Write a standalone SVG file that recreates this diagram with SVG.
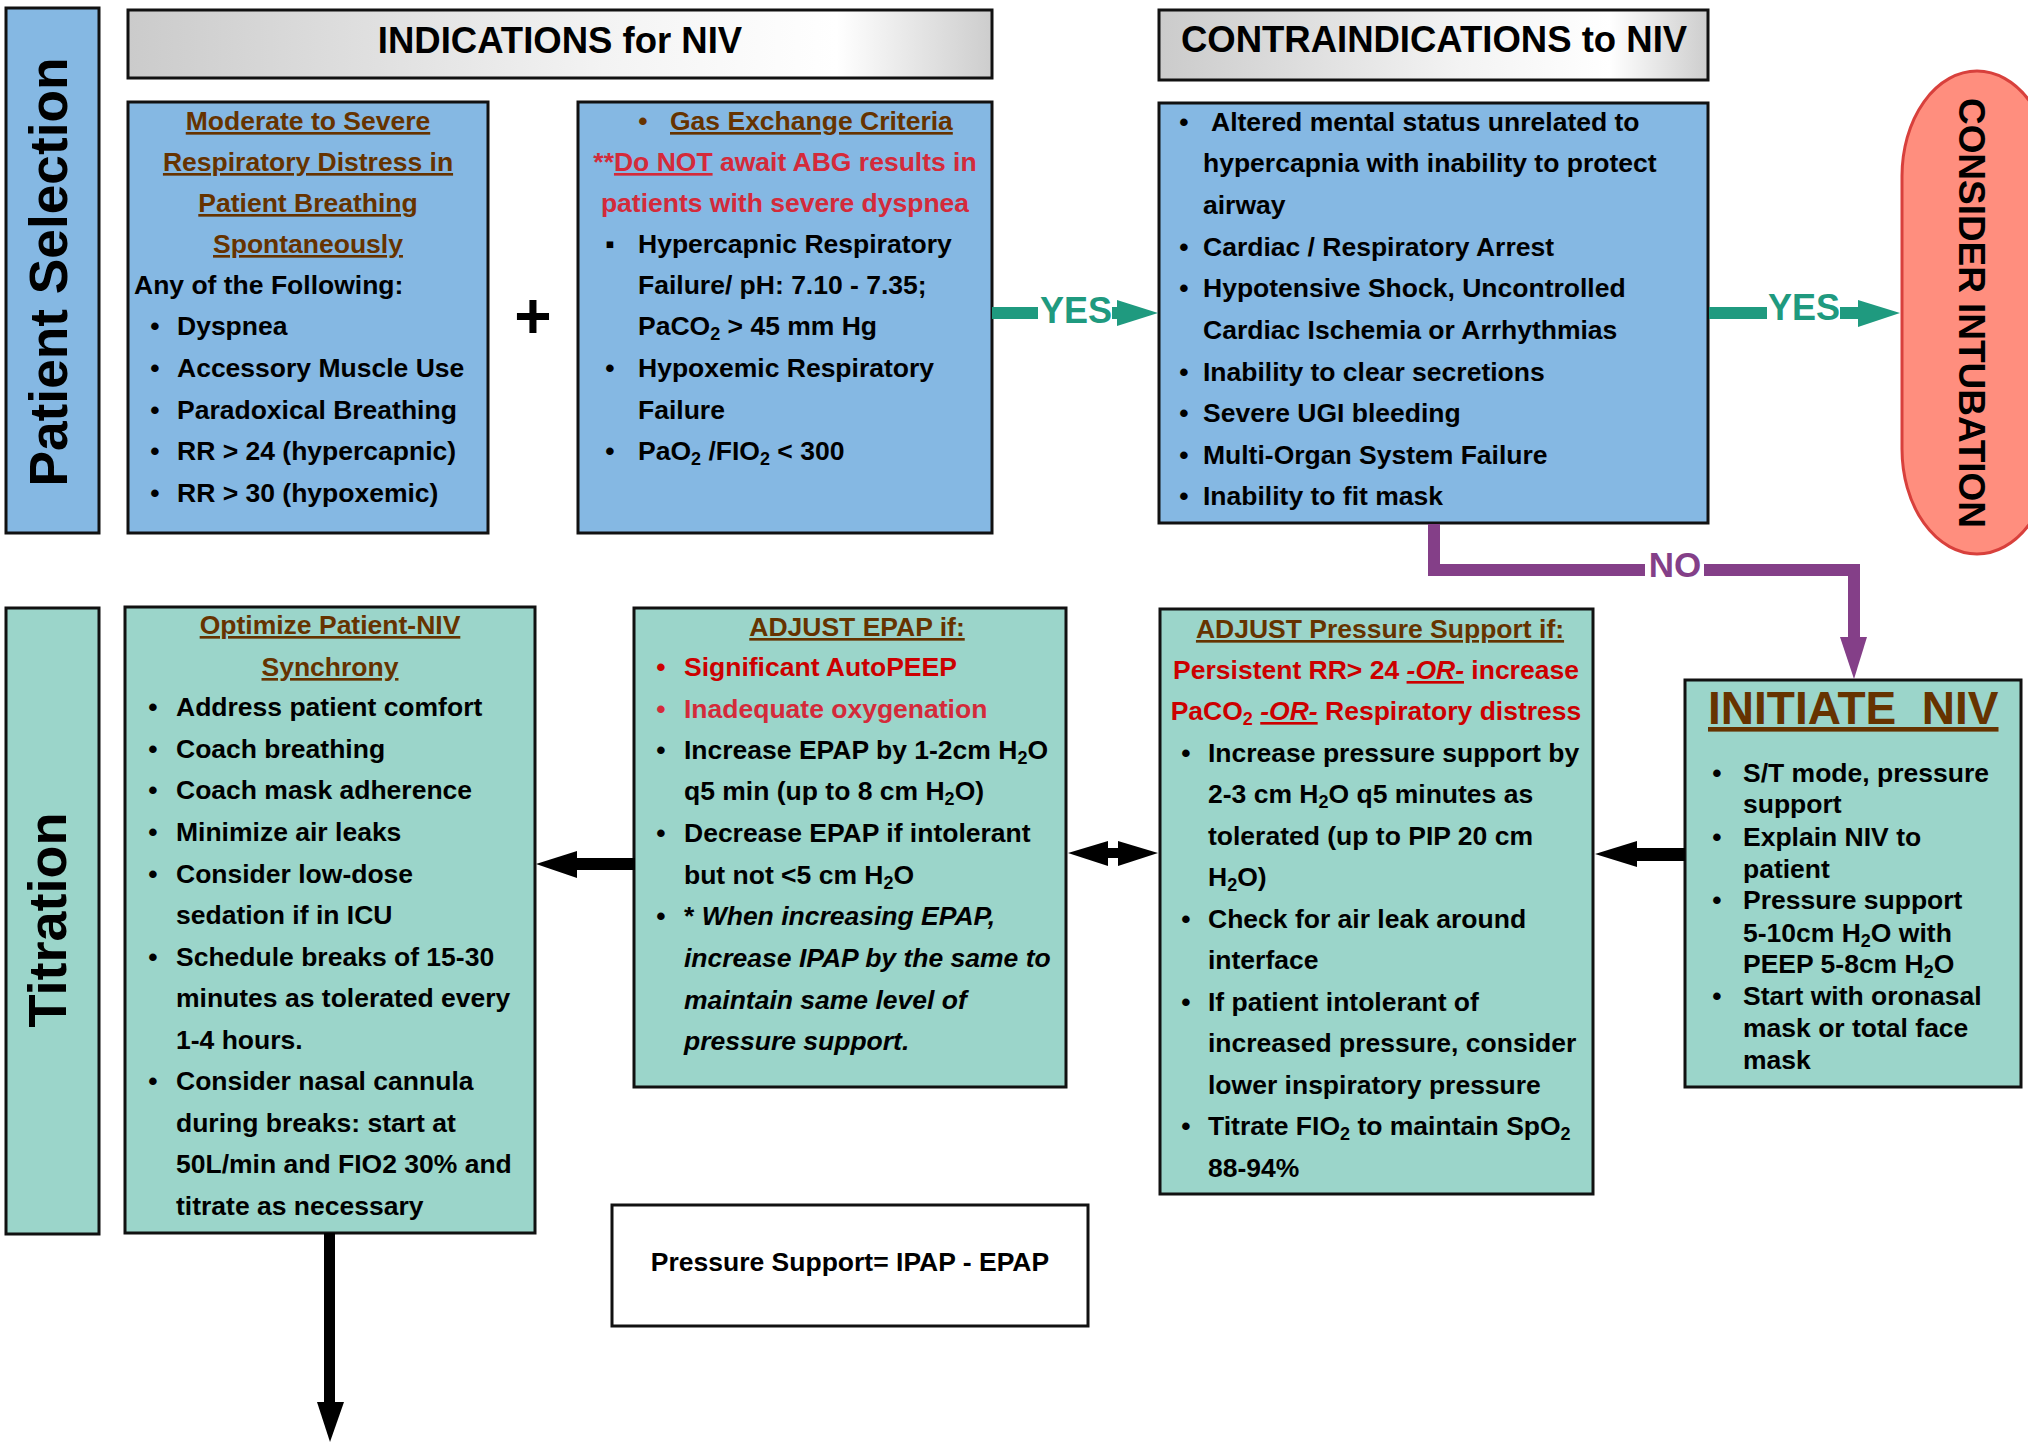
<svg xmlns="http://www.w3.org/2000/svg" width="2028" height="1442" viewBox="0 0 2028 1442">
<defs>
<linearGradient id="hdr" x1="0" y1="0" x2="1" y2="0">
<stop offset="0" stop-color="#cbcbcb"/>
<stop offset="0.55" stop-color="#f3f3f3"/>
<stop offset="0.82" stop-color="#ffffff"/>
<stop offset="1" stop-color="#cdcdcd"/>
</linearGradient>
</defs>
<style>
text{font-family:"Liberation Sans",Arial,Helvetica,sans-serif;font-weight:bold;font-size:26.5px;fill:#000}
.box{stroke:#111;stroke-width:3}
.blue{fill:#85B8E3}
.teal{fill:#9BD5CA}
.ttl{fill:#663300;text-decoration:underline}
.red{fill:#CC0000}
.red2{fill:#D42A3A}
.c{text-anchor:middle}
.hd{font-size:36.5px}
.side{font-size:54px}
.it{font-style:italic}
.ul{text-decoration:underline}
.teal-c{fill:#1F9A7F}
.pur{fill:#843F88}
</style>
<rect width="2028" height="1442" fill="#fff"/>

<g id="patient-selection">
<rect class="box blue" x="6" y="8" width="93" height="525"/>
<text class="side c" transform="translate(67,272) rotate(-90)" textLength="429" lengthAdjust="spacingAndGlyphs">Patient Selection</text>
</g>

<g id="titration">
<rect class="box teal" x="6" y="608" width="93" height="626"/>
<text class="side c" transform="translate(66,920) rotate(-90)" textLength="215" lengthAdjust="spacingAndGlyphs">Titration</text>
</g>

<g id="indications-header">
<rect class="box" fill="url(#hdr)" x="128" y="10" width="864" height="68"/>
<text class="hd c" x="560" y="53">INDICATIONS for NIV</text>
</g>

<g id="contraindications-header">
<rect class="box" fill="url(#hdr)" x="1159" y="10" width="549" height="70"/>
<text class="hd c" x="1434" y="52">CONTRAINDICATIONS to NIV</text>
</g>

<g id="resp-distress">
<rect class="box blue" x="128" y="102" width="360" height="431"/>
<text class="ttl c" x="308" y="130">Moderate to Severe</text>
<text class="ttl c" x="308" y="171">Respiratory Distress in</text>
<text class="ttl c" x="308" y="212">Patient Breathing</text>
<text class="ttl c" x="308" y="253">Spontaneously</text>
<text x="134" y="294">Any of the Following:</text>
<text class="c" x="155" y="335">•</text><text x="177" y="335">Dyspnea</text>
<text class="c" x="155" y="377">•</text><text x="177" y="377">Accessory Muscle Use</text>
<text class="c" x="155" y="419">•</text><text x="177" y="419">Paradoxical Breathing</text>
<text class="c" x="155" y="460">•</text><text x="177" y="460">RR &gt; 24 (hypercapnic)</text>
<text class="c" x="155" y="502">•</text><text x="177" y="502">RR &gt; 30 (hypoxemic)</text>
</g>

<g id="plus">
<text class="c" x="533" y="338" style="font-size:64px">+</text>
</g>

<g id="gas-exchange">
<rect class="box blue" x="578" y="102" width="414" height="431"/>
<text class="c" x="643" y="130" style="fill:#663300">•</text><text class="ttl" x="670" y="130">Gas Exchange Criteria</text>
<text class="red2 c" x="785" y="171">**<tspan class="ul">Do NOT</tspan> await ABG results in</text>
<text class="red2 c" x="785" y="212">patients with severe dyspnea</text>
<text class="c" x="610" y="253">▪</text><text x="638" y="253">Hypercapnic Respiratory</text>
<text x="638" y="294">Failure/ pH: 7.10 - 7.35;</text>
<text x="638" y="335">PaCO<tspan dy="5" font-size="18">2</tspan><tspan dy="-5"> &gt; 45 mm Hg</tspan></text>
<text class="c" x="610" y="377">•</text><text x="638" y="377">Hypoxemic Respiratory</text>
<text x="638" y="419">Failure</text>
<text class="c" x="610" y="460">•</text><text x="638" y="460">PaO<tspan dy="5" font-size="18">2</tspan><tspan dy="-5"> /FIO</tspan><tspan dy="5" font-size="18">2</tspan><tspan dy="-5"> &lt; 300</tspan></text>
</g>

<g id="contraindications">
<rect class="box blue" x="1159" y="103" width="549" height="420"/>
<text class="c" x="1184" y="131">•</text><text x="1211" y="131">Altered mental status unrelated to</text>
<text x="1203" y="172">hypercapnia with inability to protect</text>
<text x="1203" y="214">airway</text>
<text class="c" x="1184" y="256">•</text><text x="1203" y="256">Cardiac / Respiratory Arrest</text>
<text class="c" x="1184" y="297">•</text><text x="1203" y="297">Hypotensive Shock, Uncontrolled</text>
<text x="1203" y="339">Cardiac Ischemia or Arrhythmias</text>
<text class="c" x="1184" y="381">•</text><text x="1203" y="381">Inability to clear secretions</text>
<text class="c" x="1184" y="422">•</text><text x="1203" y="422">Severe UGI bleeding</text>
<text class="c" x="1184" y="464">•</text><text x="1203" y="464">Multi-Organ System Failure</text>
<text class="c" x="1184" y="505">•</text><text x="1203" y="505">Inability to fit mask</text>
</g>

<g id="consider-intubation">
<rect x="1902" y="71" width="150" height="483" rx="75" ry="105" fill="#FF8E7E" stroke="#D8403C" stroke-width="3"/>
<text class="hd c" transform="translate(1959,313) rotate(90)" style="font-size:36px" textLength="430" lengthAdjust="spacingAndGlyphs">CONSIDER INTUBATION</text>
</g>

<g id="initiate-niv">
<rect class="box teal" x="1685" y="680" width="336" height="407"/>
<text class="ttl" x="1708" y="724" style="font-size:46px" xml:space="preserve">INITIATE  NIV</text>
<text class="c" x="1717" y="782">•</text><text x="1743" y="782">S/T mode, pressure</text>
<text x="1743" y="813">support</text>
<text class="c" x="1717" y="846">•</text><text x="1743" y="846">Explain NIV to</text>
<text x="1743" y="878">patient</text>
<text class="c" x="1717" y="909">•</text><text x="1743" y="909">Pressure support</text>
<text x="1743" y="942">5-10cm H<tspan dy="5" font-size="18">2</tspan><tspan dy="-5">O with</tspan></text>
<text x="1743" y="973">PEEP 5-8cm H<tspan dy="5" font-size="18">2</tspan><tspan dy="-5">O</tspan></text>
<text class="c" x="1717" y="1005">•</text><text x="1743" y="1005">Start with oronasal</text>
<text x="1743" y="1037">mask or total face</text>
<text x="1743" y="1069">mask</text>
</g>

<g id="adjust-ps">
<rect class="box teal" x="1160" y="609" width="433" height="585"/>
<text class="ttl c" x="1380" y="638">ADJUST Pressure Support if:</text>
<text class="red c" x="1376" y="679">Persistent RR&gt; 24 <tspan class="it ul">-OR-</tspan> increase</text>
<text class="red c" x="1376" y="720">PaCO<tspan dy="5" font-size="18">2</tspan><tspan dy="-5"> </tspan><tspan class="it ul">-OR-</tspan> Respiratory distress</text>
<text class="c" x="1186" y="762">•</text><text x="1208" y="762">Increase pressure support by</text>
<text x="1208" y="803">2-3 cm H<tspan dy="5" font-size="18">2</tspan><tspan dy="-5">O q5 minutes as</tspan></text>
<text x="1208" y="845">tolerated (up to PIP 20 cm</text>
<text x="1208" y="886">H<tspan dy="5" font-size="18">2</tspan><tspan dy="-5">O)</tspan></text>
<text class="c" x="1186" y="928">•</text><text x="1208" y="928">Check for air leak around</text>
<text x="1208" y="969">interface</text>
<text class="c" x="1186" y="1011">•</text><text x="1208" y="1011">If patient intolerant of</text>
<text x="1208" y="1052">increased pressure, consider</text>
<text x="1208" y="1094">lower inspiratory pressure</text>
<text class="c" x="1186" y="1135">•</text><text x="1208" y="1135">Titrate FIO<tspan dy="5" font-size="18">2</tspan><tspan dy="-5">  to maintain SpO</tspan><tspan dy="5" font-size="18">2</tspan></text>
<text x="1208" y="1177">88-94%</text>
</g>

<g id="adjust-epap">
<rect class="box teal" x="634" y="608" width="432" height="479"/>
<text class="ttl c" x="857" y="636">ADJUST EPAP if:</text>
<text class="red c" x="661" y="676">•</text><text class="red" x="684" y="676">Significant AutoPEEP</text>
<text class="red2 c" x="661" y="718">•</text><text class="red2" x="684" y="718">Inadequate oxygenation</text>
<text class="c" x="661" y="759">•</text><text x="684" y="759">Increase EPAP by 1-2cm H<tspan dy="5" font-size="18">2</tspan><tspan dy="-5">O</tspan></text>
<text x="684" y="800">q5 min (up to 8 cm H<tspan dy="5" font-size="18">2</tspan><tspan dy="-5">O)</tspan></text>
<text class="c" x="661" y="842">•</text><text x="684" y="842">Decrease EPAP if intolerant</text>
<text x="684" y="884">but not &lt;5 cm H<tspan dy="5" font-size="18">2</tspan><tspan dy="-5">O</tspan></text>
<text class="c" x="661" y="925">•</text><text x="684" y="925">* <tspan class="it">When increasing EPAP,</tspan></text>
<text class="it" x="684" y="967">increase IPAP by the same to</text>
<text class="it" x="684" y="1009">maintain same level of</text>
<text class="it" x="684" y="1050">pressure support.</text>
</g>

<g id="optimize-synchrony">
<rect class="box teal" x="125" y="607" width="410" height="626"/>
<text class="ttl c" x="330" y="634">Optimize Patient-NIV</text>
<text class="ttl c" x="330" y="676">Synchrony</text>
<text class="c" x="153" y="716">•</text><text x="176" y="716">Address patient comfort</text>
<text class="c" x="153" y="758">•</text><text x="176" y="758">Coach breathing</text>
<text class="c" x="153" y="799">•</text><text x="176" y="799">Coach mask adherence</text>
<text class="c" x="153" y="841">•</text><text x="176" y="841">Minimize air leaks</text>
<text class="c" x="153" y="883">•</text><text x="176" y="883">Consider low-dose</text>
<text x="176" y="924">sedation if in ICU</text>
<text class="c" x="153" y="966">•</text><text x="176" y="966">Schedule breaks of 15-30</text>
<text x="176" y="1007">minutes as tolerated every</text>
<text x="176" y="1049">1-4 hours.</text>
<text class="c" x="153" y="1090">•</text><text x="176" y="1090">Consider nasal cannula</text>
<text x="176" y="1132">during breaks: start at</text>
<text x="176" y="1173">50L/min and FIO2 30% and</text>
<text x="176" y="1215">titrate as necessary</text>
</g>

<g id="ps-formula">
<rect x="612" y="1205" width="476" height="121" fill="#fff" stroke="#111" stroke-width="3"/>
<text class="c" x="850" y="1271">Pressure Support= IPAP - EPAP</text>
</g>

<g id="connectors">
<!-- YES 1 -->
<rect class="teal-c" x="992" y="307" width="46" height="12"/>
<text class="teal-c" x="1076" y="323" style="font-size:36px;text-anchor:middle">YES</text>
<rect class="teal-c" x="1112" y="307" width="6" height="12"/>
<polygon class="teal-c" points="1117,300 1158,313 1117,326"/>
<!-- YES 2 -->
<rect class="teal-c" x="1709" y="307" width="58" height="12"/>
<text class="teal-c" x="1804" y="320" style="font-size:36px;text-anchor:middle">YES</text>
<rect class="teal-c" x="1840" y="307" width="19" height="12"/>
<polygon class="teal-c" points="1858,300 1900,313 1858,327"/>
<!-- NO -->
<path d="M1434,524 V570 H1645 M1704,570 H1854 V640" fill="none" stroke="#843F88" stroke-width="12"/>
<text class="pur c" x="1675" y="577" style="font-size:35px">NO</text>
<polygon class="pur" points="1840,637 1867,637 1854,679"/>
<!-- INITIATE -> PS -->
<rect x="1635" y="848" width="50" height="13" fill="#000"/>
<polygon points="1595,854 1637,841 1637,867" fill="#000"/>
<!-- PS <-> EPAP -->
<polygon points="1068,853 1108,841 1108,866" fill="#000"/>
<rect x="1107" y="848" width="12" height="10" fill="#000"/>
<polygon points="1158,853 1118,841 1118,866" fill="#000"/>
<!-- EPAP -> Optimize -->
<rect x="575" y="858" width="60" height="12" fill="#000"/>
<polygon points="536,864 577,851 577,878" fill="#000"/>
<!-- Optimize down -->
<rect x="324" y="1233" width="11" height="171" fill="#000"/>
<polygon points="317,1402 344,1402 330,1442" fill="#000"/>
</g>
</svg>
